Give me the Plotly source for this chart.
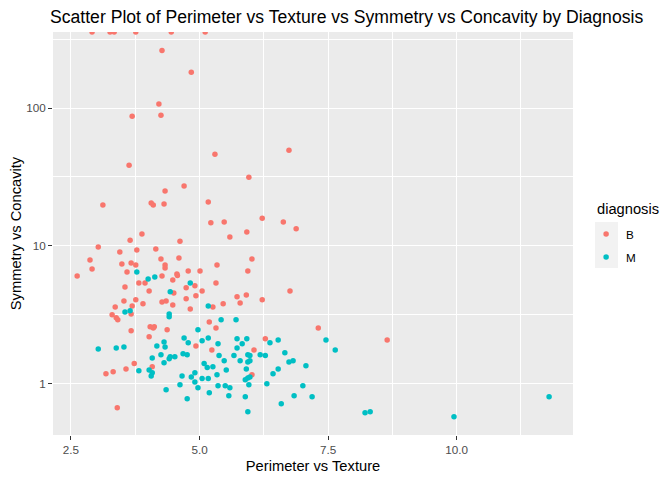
import math

import plotly.graph_objects as go

# diagnosis B (benign); inf = concavity of zero, drawn at the panel edge like ggplot does
b_perimeter_texture = [
    2.91, 3.26, 3.34, 3.76, 4.45, 5.11,
    4.27, 4.84, 4.21, 3.69, 4.25, 5.30, 6.74, 3.63, 5.96, 4.70,
    4.33, 3.12, 4.06, 4.10, 4.31, 5.17, 5.22, 5.48, 6.22, 6.63,
    6.88, 5.92, 5.59, 3.88, 3.65, 4.62, 3.03, 3.78, 4.15, 3.45,
    6.02, 2.87, 4.25, 4.60, 3.49, 3.67, 3.76, 4.33, 4.33, 2.91,
    5.34, 3.59, 4.78, 5.01, 5.94, 2.62, 4.27, 4.56, 4.57, 4.48,
    3.82, 3.94, 5.32, 3.55, 4.74, 4.91, 4.02, 4.50, 5.05, 5.91,
    5.73, 4.93, 4.74, 3.53, 3.76, 4.27, 4.35, 5.79, 3.90, 4.48,
    5.46, 3.36, 3.69, 5.26, 4.82, 6.22, 6.76, 3.30, 3.67, 3.38,
    3.41, 5.19, 4.04, 4.12, 4.10, 5.32, 4.37, 3.67, 4.02, 4.93,
    5.24, 3.73, 3.57, 4.08, 3.32, 3.18, 3.40, 7.31, 8.65, 6.28,
    6.06, 6.02,
]
inf = float("inf")
b_symmetry_concavity = [
    inf, inf, inf, inf, inf, inf,
    262, 182, 107, 87.3, 88.7, 46.3, 49.5, 38.5, 31.5, 27.2,
    25.0, 19.8, 20.5, 19.8, 20.1, 20.8, 14.7, 14.9, 15.9, 14.9,
    13.3, 12.6, 11.6, 12.2, 11.0, 10.8, 9.82, 9.34, 9.50, 9.03,
    8.04, 7.91, 8.04, 8.17, 7.39, 7.52, 7.27, 7.27, 6.92, 6.80,
    7.27, 6.47, 6.58, 6.58, 6.58, 6.05, 6.05, 6.26, 6.09, 5.66,
    5.39, 5.39, 5.39, 5.04, 4.96, 5.13, 4.71, 4.56, 4.71, 4.41,
    4.27, 4.34, 4.13, 3.99, 4.06, 3.92, 3.99, 3.86, 3.80, 3.73,
    3.80, 3.61, 3.67, 3.61, 3.49, 4.06, 4.71, 3.16, 3.21, 3.01,
    2.91, 2.81, 2.59, 2.59, 2.54, 2.54, 2.46, 2.42, 2.19, 1.88,
    1.76, 1.40, 1.28, 1.33, 1.22, 1.18, 0.670, 2.54, 2.08, 2.12,
    1.76, 1.16,
]

# diagnosis M (malignant)
m_perimeter_texture = [
    3.78, 4.00, 4.13, 4.82, 4.43, 5.17, 3.55, 3.65, 4.41, 4.41,
    5.42, 5.71, 4.97, 5.17, 4.70, 5.05, 4.78, 4.31, 5.36, 5.73,
    5.83, 4.17, 4.33, 3.03, 3.38, 3.53, 5.73, 4.68, 4.76, 4.25,
    4.43, 4.52, 5.38, 5.67, 4.08, 4.41, 4.31, 5.48, 5.79, 5.09,
    5.15, 5.26, 5.52, 3.82, 4.02, 4.08, 4.06, 4.91, 4.66, 4.84,
    5.34, 4.91, 5.05, 5.17, 4.62, 4.97, 5.36, 5.50, 5.59, 4.35,
    5.19, 5.57, 4.76, 5.92, 6.37, 6.53, 7.46, 7.64, 5.94, 5.98,
    6.18, 6.28, 6.66, 5.94, 5.98, 6.74, 6.82, 5.91, 6.53, 7.07,
    5.98, 5.94, 5.89, 6.43, 5.96, 6.31, 7.01, 5.89, 6.84, 7.19,
    6.59, 5.94, 8.22, 8.32, 9.95, 11.80,
]
m_symmetry_concavity = [
    6.47, 5.76, 5.96, 5.39, 4.64, 3.67, 3.32, 3.38, 3.21, 3.06,
    2.91, 2.91, 2.46, 2.15, 2.15, 2.05, 1.98, 2.01, 1.95, 2.12,
    1.95, 1.88, 1.85, 1.79, 1.82, 1.85, 1.82, 1.65, 1.62, 1.62,
    1.57, 1.57, 1.60, 1.60, 1.54, 1.52, 1.42, 1.47, 1.47, 1.40,
    1.31, 1.33, 1.26, 1.24, 1.26, 1.20, 1.14, 1.20, 1.14, 1.12,
    1.16, 1.03, 1.09, 1.09, 0.983, 0.935, 0.967, 0.967, 0.935, 0.905,
    0.861, 0.819, 0.779, 2.12, 1.98, 2.08, 2.08, 1.76, 1.62, 1.60,
    1.62, 1.60, 1.68, 1.44, 1.47, 1.44, 1.47, 1.28, 1.28, 1.35,
    1.12, 1.10, 1.07, 1.18, 0.983, 1.00, 0.967, 0.805, 0.819, 0.805,
    0.716, 0.627, 0.617, 0.627, 0.577, 0.805,
]

x_major = [2.5, 5.0, 7.5, 10.0]
x_labels = ["2.5", "5.0", "7.5", "10.0"]
y_major = [1, 10, 100]
y_labels = ["1", "10", "100"]

X_RANGE = [2.15, 12.265]
Y_RANGE = [-0.372, 2.552]  # log10 units
y_top = 10 ** Y_RANGE[1]

FONT = "Liberation Sans, Arial, sans-serif"
colors = {"B": "#F8766D", "M": "#00BFC4"}

fig = go.Figure()
for name, xs, ys in [("B", b_perimeter_texture, b_symmetry_concavity),
                     ("M", m_perimeter_texture, m_symmetry_concavity)]:
    fig.add_trace(go.Scatter(
        x=xs,
        y=[min(v, y_top) for v in ys],
        mode="markers",
        name=name,
        legendgroup=name,
        marker=dict(size=5.5, color=colors[name]),
        cliponaxis=True,
    ))

x_minor = [(a + b) / 2 for a, b in zip(x_major, x_major[1:] + [12.5])]
y_minor = [10 ** (math.log10(v) + 0.5) for v in [0.1] + y_major]

axis_common = dict(
    ticks="outside", ticklen=4, tickcolor="#333333", tickwidth=1,
    showgrid=True, gridcolor="white", gridwidth=1.1,
    zeroline=False, showline=False, automargin=False,
    tickfont=dict(size=11.7, color="#4D4D4D", family=FONT),
)
fig.update_xaxes(
    range=X_RANGE, tickvals=x_major, ticktext=x_labels,
    minor=dict(tickvals=x_minor, showgrid=True, gridcolor="white", gridwidth=0.55, ticks=""),
    title=dict(text="Perimeter vs Texture", font=dict(size=14.7, color="black", family=FONT), standoff=5),
    **axis_common,
)
fig.update_yaxes(
    type="log", range=Y_RANGE, tickvals=y_major, ticktext=y_labels,
    minor=dict(tickvals=y_minor, showgrid=True, gridcolor="white", gridwidth=0.55, ticks=""),
    title=dict(text="Symmetry vs Concavity", font=dict(size=14.7, color="black", family=FONT), standoff=2),
    **axis_common,
)

# grey key background behind the legend symbols (ggplot legend.key)
fig.add_shape(type="rect", xref="paper", yref="paper",
              x0=1.0423, x1=1.0865, y0=0.4144, y1=0.5285,
              fillcolor="#F2F2F2", line=dict(width=0), layer="below")

# legend title placed on its own so the key rows can sit like ggplot's
fig.add_annotation(text="diagnosis", xref="paper", yref="paper",
                   x=1.0423, xanchor="left", y=0.562, yanchor="middle",
                   showarrow=False, font=dict(size=14.7, color="black", family=FONT))

# page body has an 8px margin, so the figure is 8px smaller than the window
fig.update_layout(
    width=664, height=472, autosize=False,
    margin=dict(l=45, r=99, t=24, b=45),
    plot_bgcolor="#EBEBEB", paper_bgcolor="white",
    title=dict(
        text="Scatter Plot of Perimeter vs Texture vs Symmetry vs Concavity by Diagnosis",
        font=dict(size=17.6, color="black", family=FONT),
        x=0.0633, xref="container", xanchor="left", y=0.981, yanchor="middle",
    ),
    legend=dict(
        font=dict(size=11.7, color="black", family=FONT),
        x=1.0252, xanchor="left", y=0.5347, yanchor="top",
        itemwidth=30, traceorder="grouped", tracegroupgap=4,
        bgcolor="rgba(0,0,0,0)",
    ),
    showlegend=True,
)

fig.write_html("out.html")
